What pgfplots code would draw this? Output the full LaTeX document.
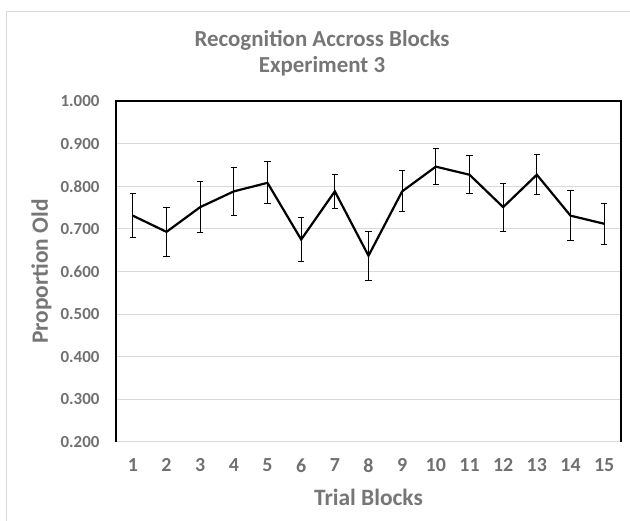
\documentclass[border=0pt]{standalone}
\usepackage{fontspec}
\setmainfont{Carlito}
\usepackage{pgfplots}
\pgfplotsset{compat=1.18}
\usepackage{pgfplotstable}

\definecolor{txtgray}{HTML}{707070}
\definecolor{titlegray}{HTML}{767676}
\definecolor{gridgray}{HTML}{D9D9D9}

% block, proportion old, error
\pgfplotstableread{
x  y      e
1  0.731  0.051
2  0.693  0.057
3  0.751  0.060
4  0.788  0.056
5  0.808  0.049
6  0.675  0.051
7  0.788  0.040
8  0.637  0.058
9  0.788  0.048
10 0.846  0.042
11 0.827  0.045
12 0.751  0.056
13 0.827  0.047
14 0.731  0.059
15 0.712  0.048
}\recog

\begin{document}
\begin{tikzpicture}
\useasboundingbox (0,0) rectangle (630bp,521bp);
% chart area border (only left and top visible)
\draw[gridgray, line width=1bp] (6bp,0) -- (6bp,509bp) -- (630bp,509bp);
\begin{axis}[
    at={(116bp,79bp)}, anchor=south west,
    scale only axis,
    width=505bp, height=341bp,
    xmin=0.5, xmax=15.5,
    ymin=0.2, ymax=1.0,
    xtick={1,...,15},
    ytick={0.2,0.3,...,1.0},
    axis line style={draw=none},
    major tick length=0pt,
    ymajorgrids,
    grid style={gridgray, line width=1bp},
    clip=false,
    font=\fontsize{17}{20}\selectfont\bfseries,
    tick label style={txtgray},
    /pgf/number format/assume math mode=true,
    yticklabel style={/pgf/number format/fixed, /pgf/number format/fixed zerofill,
        /pgf/number format/precision=3, xshift=-13bp},
    xticklabel style={font=\fontsize{20}{24}\selectfont\bfseries, yshift=-13bp},
]
\draw[black, line width=1.1bp] (rel axis cs:0,0) -- (rel axis cs:0,1) -- (rel axis cs:1,1) -- (rel axis cs:1,0);
\addplot[black, line width=2.2bp, mark=none,
    error bars/.cd, y dir=both, y explicit,
    error bar style={line width=1bp},
    error mark options={rotate=90, mark size=3.2bp, line width=1bp}]
    table[x=x, y=y, y error=e] {\recog};
\node[anchor=base, titlegray, font=\fontsize{23}{27}\selectfont\bfseries]
    at (rel axis cs:0.408,1.161) {Recognition Accross Blocks};
\node[anchor=base, titlegray, font=\fontsize{23}{27}\selectfont\bfseries]
    at (rel axis cs:0.408,1.085) {Experiment 3};
\node[anchor=base, titlegray, font=\fontsize{23.5}{27}\selectfont\bfseries]
    at (rel axis cs:0.5,-0.185) {Trial Blocks};
\node[anchor=center, rotate=90, titlegray, font=\fontsize{23.5}{27}\selectfont\bfseries]
    at (rel axis cs:-0.1475,0.5) {Proportion Old};
\end{axis}
\end{tikzpicture}
\end{document}
